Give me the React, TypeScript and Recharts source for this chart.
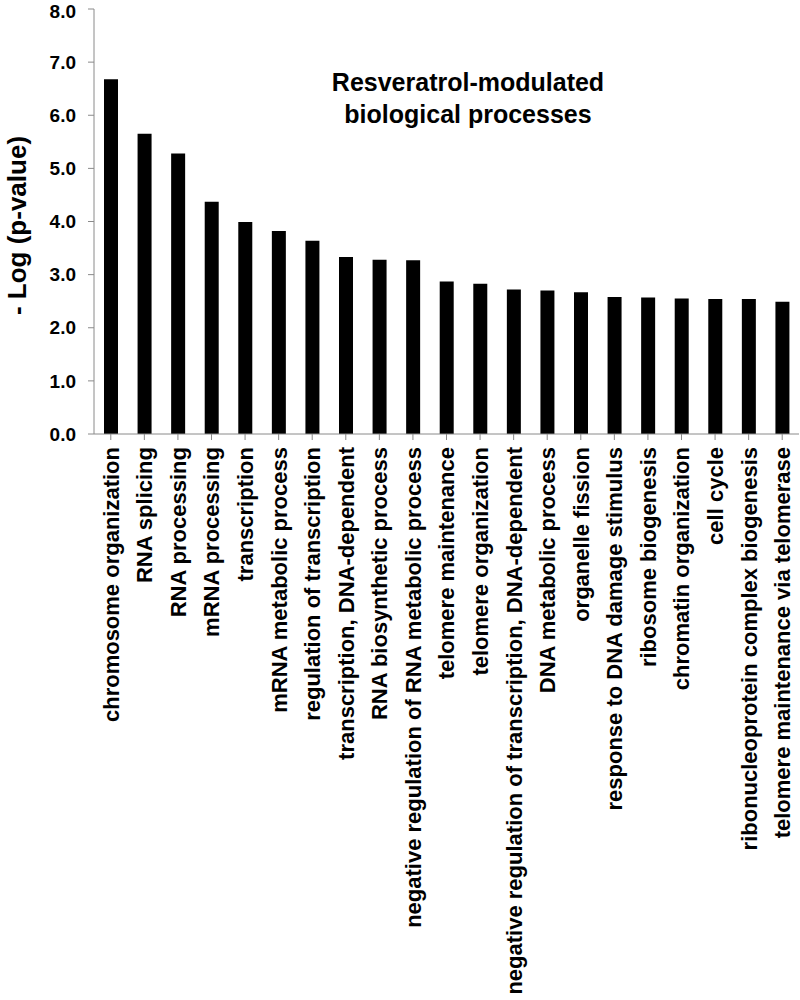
import { BarChart, Bar, XAxis, YAxis } from 'recharts';

const categories = [
  'chromosome organization',
  'RNA splicing',
  'RNA processing',
  'mRNA processing',
  'transcription',
  'mRNA metabolic process',
  'regulation of transcription',
  'transcription, DNA-dependent',
  'RNA biosynthetic process',
  'negative regulation of RNA metabolic process',
  'telomere maintenance',
  'telomere organization',
  'negative regulation of transcription, DNA-dependent',
  'DNA metabolic process',
  'organelle fission',
  'response to DNA damage stimulus',
  'ribosome biogenesis',
  'chromatin organization',
  'cell cycle',
  'ribonucleoprotein complex biogenesis',
  'telomere maintenance via telomerase',
];

const logP = [
  6.68, 5.65, 5.28, 4.37, 3.99, 3.82, 3.64, 3.33, 3.28, 3.27,
  2.87, 2.83, 2.72, 2.70, 2.67, 2.58, 2.57, 2.55, 2.54, 2.54, 2.49,
];

const yTicks = [0, 1, 2, 3, 4, 5, 6, 7, 8];

const data = categories.map((name, i) => ({ name, value: logP[i] }));

const FONT = '"Liberation Sans", Arial, sans-serif';
const AXIS_COLOR = '#8a8a8a';

const CategoryTick = (props: any) => {
  const { x, y, payload } = props;
  return (
    <text
      x={x}
      y={y + 5}
      transform={`rotate(-90, ${x}, ${y + 5})`}
      textAnchor="end"
      dy="0.36em"
      fontFamily={FONT}
      fontWeight="bold"
      fontSize={22}
      fill="#000"
    >
      {payload.value}
    </text>
  );
};

const YLabel = (props: any) => {
  const vb = props.viewBox || { x: 0, y: 9, height: 425 };
  const cy = vb.y + vb.height / 2 + 4;
  return (
    <text
      x={17}
      y={cy}
      transform={`rotate(-90, 17, ${cy})`}
      textAnchor="middle"
      dy="0.36em"
      fontFamily={FONT}
      fontWeight="bold"
      fontSize={26}
      fill="#000"
    >
      - Log (p-value)
    </text>
  );
};

export default function App() {
  return (
    <div style={{ position: 'absolute', left: 0, top: 0, width: 800, height: 1000, background: '#fff' }}>
      <BarChart
        width={800}
        height={1000}
        data={data}
        margin={{ top: 9, right: 1, bottom: 0, left: 0 }}
      >
        <XAxis
          dataKey="name"
          interval={0}
          height={566}
          tick={<CategoryTick />}
          tickSize={6}
          axisLine={{ stroke: AXIS_COLOR }}
          tickLine={{ stroke: AXIS_COLOR }}
        />
        <YAxis
          domain={[0, 8]}
          ticks={yTicks}
          width={94}
          tickSize={6}
          tickMargin={12}
          tickFormatter={(v: number) => v.toFixed(1)}
          tick={{ fontFamily: FONT, fontWeight: 'bold', fontSize: 19, fill: '#000' }}
          axisLine={{ stroke: AXIS_COLOR }}
          tickLine={{ stroke: AXIS_COLOR }}
          label={<YLabel />}
        />
        <Bar dataKey="value" fill="#000" barSize={14} isAnimationActive={false} />
      </BarChart>
      <div
        style={{
          position: 'absolute',
          left: 268,
          top: 66,
          width: 400,
          textAlign: 'center',
          fontFamily: FONT,
          fontWeight: 'bold',
          fontSize: 25,
          lineHeight: '32px',
          color: '#000',
        }}
      >
        Resveratrol-modulated
        <br />
        biological processes
      </div>
    </div>
  );
}
